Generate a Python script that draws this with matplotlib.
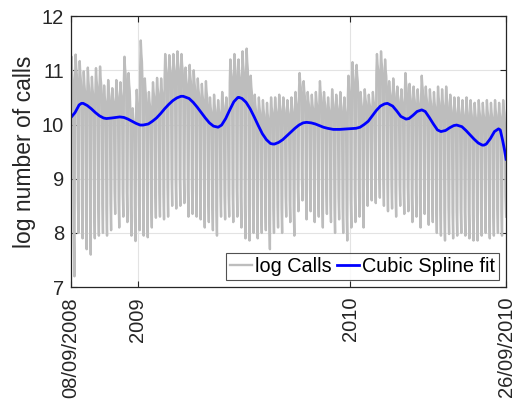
import matplotlib
import matplotlib.pyplot as plt
import matplotlib.dates as mdates
import numpy as np
import pandas as pd

matplotlib.use("agg")

plt.rcParams["font.family"] = ["Liberation Sans", "DejaVu Sans"]
plt.rcParams["font.size"] = 14.5

# Data: one week per entry, starting Monday 08/09/2008
start_date = "2008-09-08"

week_high = [
    11.25, 11.29, 11.17, 10.98, 11.05, 10.88, 11.04, 11.07, 10.72, 10.82,
    10.67, 10.82, 10.78, 11.25, 10.95, 10.30, 10.64, 11.55, 10.85, 10.60,
    10.78, 10.86, 10.85, 11.30, 11.28, 11.30, 11.35, 11.30, 11.05, 11.10,
    11.00, 10.85, 10.75, 10.80, 10.50, 10.55, 10.45, 10.60, 10.50, 11.20,
    11.30, 11.20, 11.35, 11.40, 10.90, 10.55, 10.50, 10.45, 10.40, 10.50,
    10.50, 10.55, 10.50, 10.45, 10.50, 10.60, 10.95, 10.80, 10.60, 10.55,
    10.60, 10.80, 10.60, 10.50, 10.65, 10.55, 10.60, 10.50, 10.90, 11.15,
    11.10, 10.60, 10.65, 10.55, 10.60, 11.30, 11.35, 11.20, 10.80, 10.85,
    10.70, 10.65, 10.95, 10.75, 10.70, 10.65, 10.90, 10.70, 10.65, 10.60,
    10.70, 10.65, 10.70, 10.55, 10.50, 10.50, 10.45, 10.50, 10.45, 10.40,
    10.45, 10.40, 10.45, 10.40, 10.45, 10.40, 10.45,
]
week_low = [
    7.20, 8.00, 7.90, 7.70, 7.60, 7.90, 7.95, 8.00, 7.95, 8.05,
    8.35, 8.10, 8.30, 8.20, 7.95, 7.85, 8.05, 7.95, 7.92, 8.10,
    8.28, 8.30, 8.25, 8.30, 8.50, 8.45, 8.50, 8.55, 8.30, 8.35,
    8.30, 8.25, 8.10, 8.20, 8.05, 7.95, 8.30, 8.25, 8.30, 8.20,
    8.30, 8.10, 7.90, 7.86, 8.00, 7.90, 8.00, 8.05, 7.70, 8.00,
    8.10, 8.00, 8.30, 8.20, 7.95, 8.40, 8.60, 8.25, 8.40, 8.20,
    8.30, 8.10, 8.35, 8.20, 8.00, 8.25, 8.00, 7.86, 8.10, 8.20,
    8.30, 8.10, 8.50, 8.60, 8.55, 8.65, 8.50, 8.40, 8.45, 8.30,
    8.50, 8.35, 8.40, 8.20, 8.30, 8.10, 8.35, 8.15, 8.20, 8.00,
    7.95, 7.86, 7.98, 7.90, 7.95, 8.00, 7.95, 7.90, 7.86, 7.86,
    7.95, 8.00, 7.90, 7.95, 8.00, 7.95, 8.30,
]
# position of each weekday between the week's low and high (Mon..Sun)
weekday_level = [0.86, 1.0, 0.93, 0.89, 0.78, 0.18, 0.0]

# cubic spline curve, read as (day offset, value)
spline_day = [
    0, 7, 14, 18, 21, 28, 35, 42, 49, 56, 61, 70, 77, 84, 91, 98, 105, 112,
    119, 124, 133, 140, 147, 154, 161, 168, 175, 182, 189, 193, 203, 210, 217,
    224, 231, 238, 245, 253, 259, 266, 273, 280, 287, 289, 294, 301, 308, 315,
    322, 329, 336, 343, 347, 350, 357, 364, 371, 378, 385, 392, 399, 405, 413,
    420, 427, 434, 441, 451, 462, 476, 490, 497, 504, 511, 518, 525, 532, 539,
    544, 553, 560, 567, 576, 581, 588, 595, 603, 609, 616, 623, 630, 636, 644,
    651, 658, 663, 672, 679, 686, 693, 700, 707, 710, 714, 721, 728, 735, 738,
    742, 745, 748,
]
spline_val = [
    10.13, 10.22, 10.36, 10.39, 10.39, 10.35, 10.29, 10.22, 10.16, 10.12, 10.11,
    10.12, 10.13, 10.14, 10.13, 10.10, 10.06, 10.02, 9.99, 9.99, 10.01, 10.06,
    10.12, 10.20, 10.29, 10.37, 10.44, 10.49, 10.52, 10.52, 10.48, 10.41, 10.32,
    10.22, 10.12, 10.03, 9.97, 9.95, 9.99, 10.11, 10.27, 10.42, 10.50, 10.50,
    10.48, 10.41, 10.29, 10.14, 9.98, 9.83, 9.72, 9.65, 9.64, 9.64, 9.67, 9.72,
    9.79, 9.86, 9.93, 9.99, 10.03, 10.04, 10.03, 10.01, 9.98, 9.95, 9.93, 9.91,
    9.91, 9.92, 9.93, 9.95, 10.00, 10.06, 10.16, 10.26, 10.34, 10.38, 10.39,
    10.34, 10.25, 10.15, 10.10, 10.11, 10.17, 10.24, 10.27, 10.24, 10.13, 10.01,
    9.90, 9.87, 9.89, 9.94, 9.98, 9.99, 9.96, 9.89, 9.81, 9.73, 9.66, 9.62,
    9.62, 9.64, 9.74, 9.87, 9.92, 9.90, 9.71, 9.55, 9.36,
]

tick_dates = ["2008-09-08", "2009-01-01", "2010-01-01", "2010-09-26"]
tick_labels = ["08/09/2008", "2009", "2010", "26/09/2010"]

# daily series from the weekly levels
daily = []
for hi, lo in zip(week_high, week_low):
    for f in weekday_level:
        daily.append(lo + f * (hi - lo))
dates = pd.date_range(start_date, periods=len(daily), freq="D")
spline_dates = pd.Timestamp(start_date) + pd.to_timedelta(spline_day, unit="D")

fig = plt.figure(figsize=(5.18, 4.12), dpi=100)
ax = fig.add_axes([0.137, 0.303, 0.840, 0.658])

ax.plot(dates, daily, color="#bdbdbd", lw=1.7, label="log Calls")
ax.plot(spline_dates, spline_val, color="#0000ff", lw=2.0, label="Cubic Spline fit")

ax.set_xlim(pd.Timestamp(tick_dates[0]), pd.Timestamp(tick_dates[-1]))
ax.set_ylim(7, 12)
ax.set_yticks([7, 8, 9, 10, 11, 12])
ax.set_xticks([mdates.date2num(pd.Timestamp(d)) for d in tick_dates])
ax.set_xticklabels(tick_labels, rotation=90)
ax.set_ylabel("log number of calls", color="#262626", fontsize=16.5, labelpad=4)

ax.grid(True, color="#e3e3e3", lw=0.8)
ax.set_axisbelow(True)
for s in ax.spines.values():
    s.set_color("#262626")
    s.set_linewidth(0.9)
ax.tick_params(direction="in", length=4, width=0.8, top=True, right=True,
               colors="#262626", labelcolor="#262626")
ax.tick_params(axis="x", pad=7)
ax.tick_params(axis="y", pad=5)

leg = ax.legend(loc="lower right", ncol=2, fontsize=14.3, frameon=True,
                fancybox=False, handlelength=1.1, handletextpad=0.15,
                columnspacing=0.3, borderpad=0.2, borderaxespad=0.35)
leg.get_frame().set_edgecolor("#262626")
leg.get_frame().set_linewidth(0.8)

plt.savefig("out.png", dpi=100)
plt.close(fig)
